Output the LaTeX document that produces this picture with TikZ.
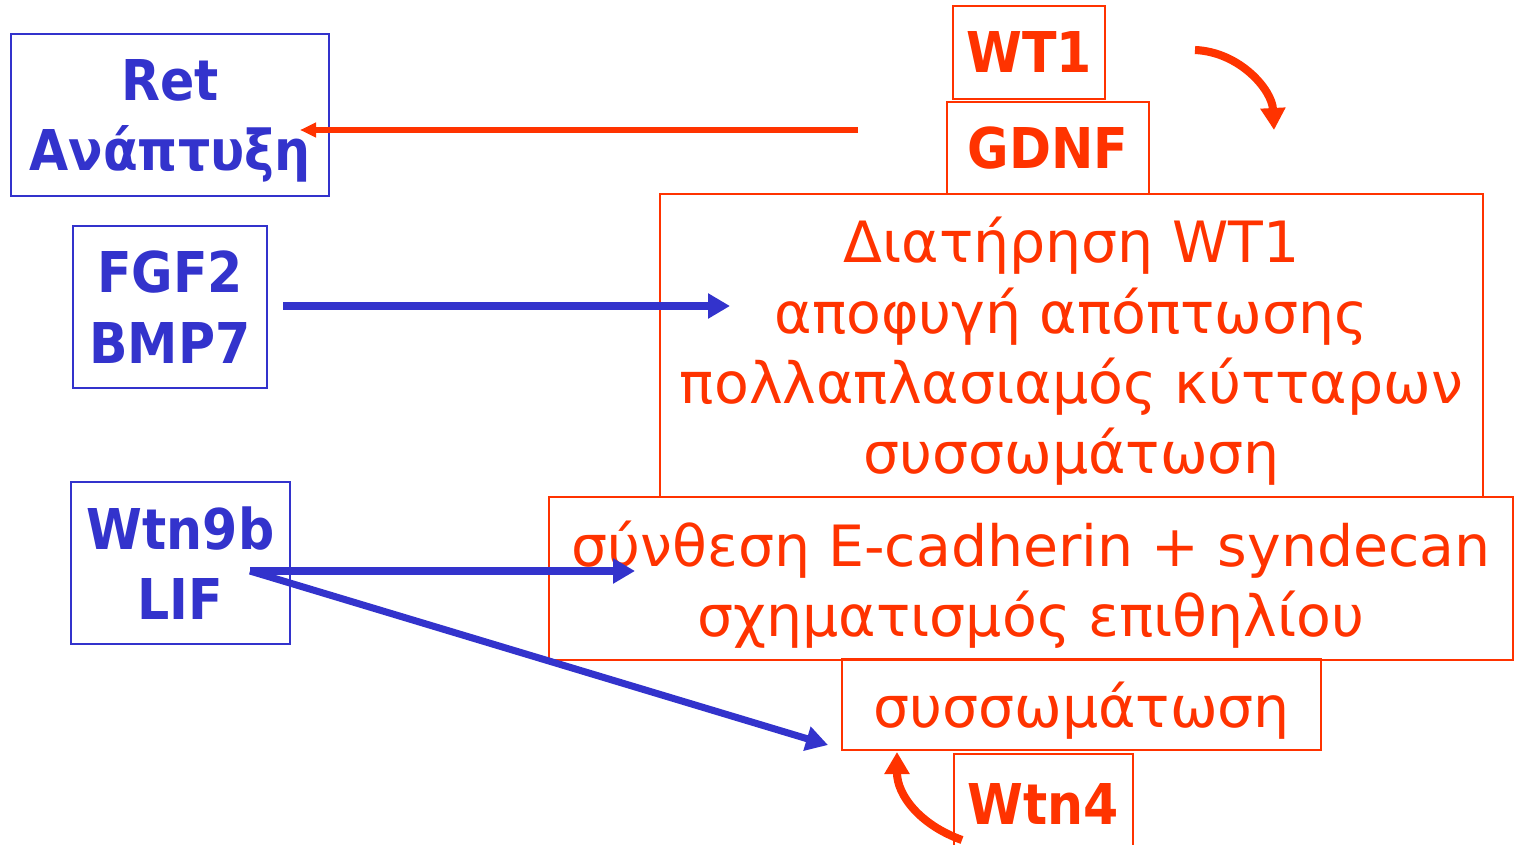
\documentclass[tikz,border=0pt]{standalone}
\usepackage{fontspec}
\setmainfont{DejaVu Sans}
\newfontfamily\labelfont{DejaVu Sans Condensed}
\usepackage{xcolor}
\definecolor{sig-blue}{RGB}{51,51,204}
\definecolor{sig-red}{RGB}{255,51,0}
\usetikzlibrary{arrows.meta}

\tikzset{
	bluebox/.style={draw=sig-blue, line width=0.6pt, text=sig-blue, align=center,
		inner sep=0pt, text depth=0pt, font=\labelfont\fontsize{16}{20}\selectfont\bfseries},
	redbox/.style={draw=sig-red, line width=0.6pt, text=sig-red, align=center,
		inner sep=0pt, text depth=0pt, font=\fontsize{16.2}{20}\selectfont},
	redbold/.style={redbox, font=\labelfont\fontsize{16}{20}\selectfont\bfseries},
}

\begin{document}
\begin{tikzpicture}[x=0.1mm,y=-0.1mm,>={Triangle[length=2.2mm,width=2.4mm]}]
	\useasboundingbox (0,0) rectangle (1514,845);

	% left column
	\node[bluebox, minimum width=3.18cm, minimum height=1.62cm] (ret)  at (170,115) {Ret\\Ανάπτυξη};
	\node[bluebox, minimum width=1.94cm, minimum height=1.62cm] (fgf)  at (170,307) {FGF2\\BMP7};
	\node[bluebox, minimum width=2.19cm, minimum height=1.62cm] (wtn9) at (180.5,563) {Wtn9b\\LIF};

	% right column
	\node[redbold, minimum width=1.52cm, minimum height=0.93cm] (wt1)  at (1029,52.5) {WT1};
	\node[redbold, minimum width=2.02cm, minimum height=0.92cm] (gdnf) at (1048,148) {GDNF};
	\node[redbox, minimum width=8.23cm, minimum height=3.03cm] (keep) at (1071.5,345.5)
		{Διατήρηση WT1\\αποφυγή απόπτωσης\\πολλαπλασιαμός κύτταρων\\συσσωμάτωση};
	\node[redbox, minimum width=9.64cm, minimum height=1.63cm] (ecad) at (1031,578.5)
		{σύνθεση E-cadherin + syndecan\\σχηματισμός επιθηλίου};
	\node[redbox, minimum width=4.79cm, minimum height=0.91cm] (aggr) at (1081.5,704.5) {συσσωμάτωση};
	\node[redbold, minimum width=1.79cm, minimum height=1.0cm] (wtn4) at (1043.5,804) {Wtn4};

	\coordinate (gdnf-out) at (858,130);
	\coordinate (ret-in)   at (300,130);
	\coordinate (fgf-out)  at (283,306);
	\coordinate (keep-in)  at (730,306);
	\coordinate (wtn9-out) at (250,571);
	\coordinate (ecad-in)  at (635,571);
	\coordinate (aggr-in)  at (828,745);
	\coordinate (loop-a)   at (1195,50);
	\coordinate (loop-b)   at (1274,130);
	\coordinate (wtn4-out) at (962,840);
	\coordinate (aggr-up)  at (897,752);

	\draw[->, sig-red, line width=1.5pt, >={Triangle[length=1.6mm,width=1.4mm]}] (gdnf-out) -- (ret-in);
	\draw[->, sig-blue, line width=2pt] (fgf-out) -- (keep-in);
	\draw[->, sig-blue, line width=2pt] (wtn9-out) -- (ecad-in);
	\draw[->, sig-blue, line width=2pt] (wtn9-out) -- (aggr-in);

	\draw[->, sig-red, line width=2.3pt]
		(loop-a) .. controls (1240,52) and (1272,90) .. (loop-b);
	\draw[->, sig-red, line width=2.3pt]
		(wtn4-out) .. controls (920,825) and (897,795) .. (aggr-up);
\end{tikzpicture}
\end{document}
